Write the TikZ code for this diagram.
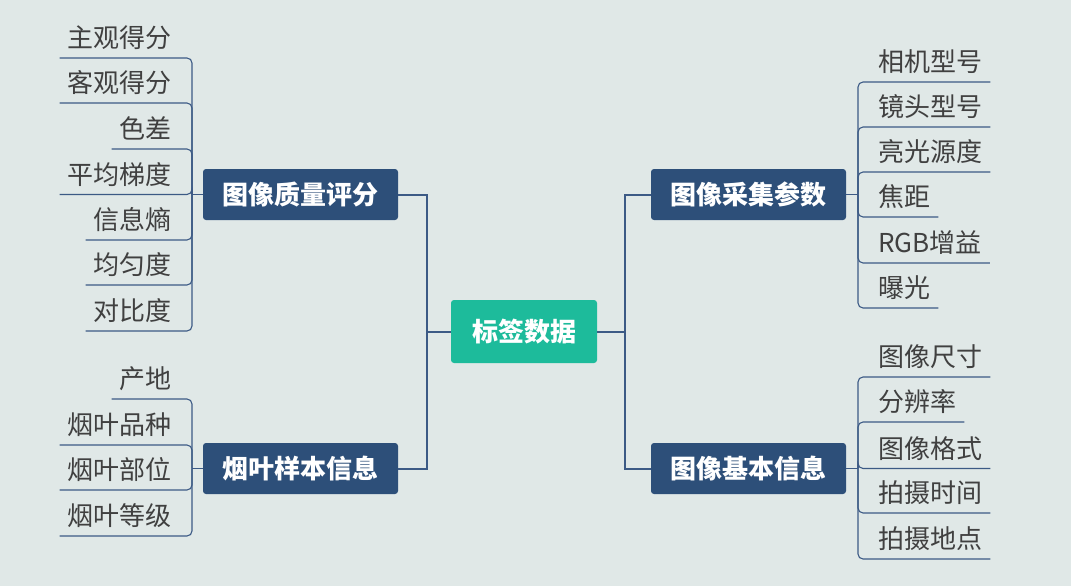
\documentclass[tikz,border=0pt]{standalone}
\usepackage{fontspec}
\newfontfamily\cjk{Noto Sans CJK SC}
\definecolor{bgc}{HTML}{E0E8E7}
\definecolor{boxc}{HTML}{2D4F79}
\definecolor{rootc}{HTML}{1DBB9B}
\definecolor{linec}{HTML}{3C5A85}
\definecolor{leaftxt}{HTML}{404040}
\tikzset{
  topic/.style={fill=boxc, text=white, rounded corners=3pt, minimum width=195pt, minimum height=51pt, inner sep=0pt, font=\cjk\bfseries\fontsize{26}{30}\selectfont},
  rootbox/.style={fill=rootc, text=white, rounded corners=3pt, minimum width=146pt, minimum height=63pt, inner sep=0pt, font=\cjk\bfseries\fontsize{26}{30}\selectfont},
  leafR/.style={anchor=south west, inner xsep=8pt, inner ysep=0pt, text depth=10pt, text=leaftxt, font=\cjk\fontsize{26}{30}\selectfont},
  leafL/.style={anchor=south east, inner xsep=8pt, inner ysep=0pt, text depth=10pt, text=leaftxt, font=\cjk\fontsize{26}{30}\selectfont},
  mainline/.style={draw=linec, line width=2pt},
  leafline/.style={draw=linec, line width=1.1pt, rounded corners=5pt},
}
\begin{document}
\begin{tikzpicture}[x=1pt,y=-1pt]
\fill[bgc] (0,0) rectangle (1071,586);
\useasboundingbox (0,0) rectangle (1071,586);

% central and topic nodes
\node[rootbox] (root) at (524,331.5) {标签数据};
\node[topic] (q) at (300.5,194.5) {图像质量评分};
\node[topic] (s) at (300.5,468.5) {烟叶样本信息};
\node[topic] (c) at (748.5,194.5) {图像采集参数};
\node[topic] (b) at (748.5,468.5) {图像基本信息};

\coordinate (lj) at (427,331.5);
\coordinate (rj) at (625,331.5);
\draw[mainline] (root.west) -- (lj) |- (q.east);
\draw[mainline] (lj) |- (s.east);
\draw[mainline] (root.east) -- (rj) |- (c.east -| c.west);
\draw[mainline] (rj) |- (b.west);

% leaf junctions
\coordinate (qj) at (192,194.5);
\coordinate (sj) at (192,468.5);
\coordinate (cj) at (858,194.5);
\coordinate (bj) at (858,468.5);
\draw[leafline] (q.west) -- (qj);
\draw[leafline] (s.west) -- (sj);
\draw[leafline] (c.east) -- (cj);
\draw[leafline] (b.east) -- (bj);

% left leaves: quality
\node[leafL] (q1) at (180,58) {主观得分};
\node[leafL] (q2) at (180,103) {客观得分};
\node[leafL] (q3) at (180,149) {色差};
\node[leafL] (q4) at (180,194.5) {平均梯度};
\node[leafL] (q5) at (180,240) {信息熵};
\node[leafL] (q6) at (180,285) {均匀度};
\node[leafL] (q7) at (180,331) {对比度};
\foreach \n in {q1,q2,q3,q4,q5,q6,q7} \draw[leafline] (qj) |- (\n.south west);

% left leaves: sample
\node[leafL] (s1) at (180,399) {产地};
\node[leafL] (s2) at (180,445) {烟叶品种};
\node[leafL] (s3) at (180,490) {烟叶部位};
\node[leafL] (s4) at (180,536) {烟叶等级};
\foreach \n in {s1,s2,s3,s4} \draw[leafline] (sj) |- (\n.south west);

% right leaves: capture parameters
\node[leafR] (c1) at (870,82) {相机型号};
\node[leafR] (c2) at (870,127) {镜头型号};
\node[leafR] (c3) at (870,172) {亮光源度};
\node[leafR] (c4) at (870,217) {焦距};
\node[leafR] (c5) at (870,263) {RGB增益};
\node[leafR] (c6) at (870,308) {曝光};
\foreach \n in {c1,c2,c3,c4,c5,c6} \draw[leafline] (cj) |- (\n.south east);

% right leaves: basic info
\node[leafR] (b1) at (870,377) {图像尺寸};
\node[leafR] (b2) at (870,422) {分辨率};
\node[leafR] (b3) at (870,468.5) {图像格式};
\node[leafR] (b4) at (870,513) {拍摄时间};
\node[leafR] (b5) at (870,559) {拍摄地点};
\foreach \n in {b1,b2,b3,b4,b5} \draw[leafline] (bj) |- (\n.south east);
\end{tikzpicture}
\end{document}
